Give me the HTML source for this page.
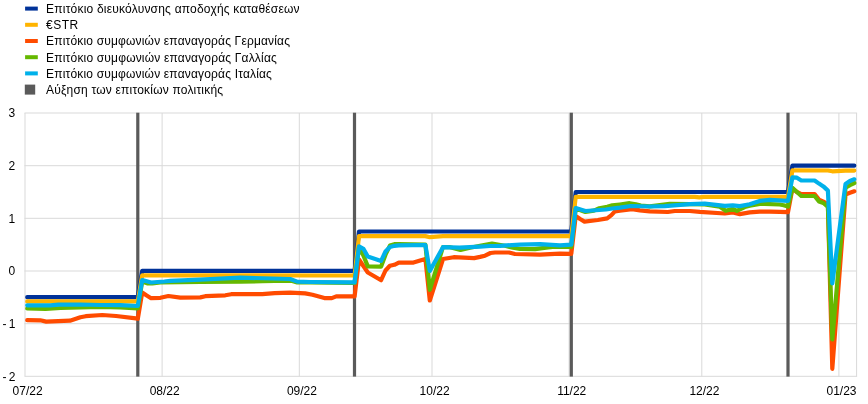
<!DOCTYPE html>
<html lang="el">
<head>
<meta charset="utf-8">
<title>Επιτόκια</title>
<style>
html,body{margin:0;padding:0;background:#fff;}
body{width:868px;height:404px;overflow:hidden;}
svg{display:block;}
text{font-family:"Liberation Sans",sans-serif;font-size:12px;fill:#000;}
</style>
</head>
<body>
<svg width="868" height="404" viewBox="0 0 868 404">
<rect x="0" y="0" width="868" height="404" fill="#fff"/>
<g stroke="#d9d9d9" stroke-width="1" fill="none">
<line x1="24.5" y1="376.3" x2="857.1" y2="376.3"/>
<line x1="24.5" y1="323.7" x2="857.1" y2="323.7"/>
<line x1="24.5" y1="271.0" x2="857.1" y2="271.0"/>
<line x1="24.5" y1="218.3" x2="857.1" y2="218.3"/>
<line x1="24.5" y1="165.7" x2="857.1" y2="165.7"/>
<line x1="24.5" y1="113.0" x2="857.1" y2="113.0"/>
<line x1="25.0" y1="113.0" x2="25.0" y2="376.3"/>
<line x1="162.1" y1="113.0" x2="162.1" y2="376.3"/>
<line x1="299.3" y1="113.0" x2="299.3" y2="376.3"/>
<line x1="432.0" y1="113.0" x2="432.0" y2="376.3"/>
<line x1="569.1" y1="113.0" x2="569.1" y2="376.3"/>
<line x1="701.8" y1="113.0" x2="701.8" y2="376.3"/>
<line x1="838.9" y1="113.0" x2="838.9" y2="376.3"/>
<line x1="856.6" y1="113.0" x2="856.6" y2="376.3"/>
</g>
<g fill="#5a5a5a">
<rect x="136.2" y="112.7" width="3.2" height="263.9"/>
<rect x="352.9" y="112.7" width="3.2" height="263.9"/>
<rect x="569.7" y="112.7" width="3.2" height="263.9"/>
<rect x="786.4" y="112.7" width="3.2" height="263.9"/>
</g>
<polyline points="27.2,297.2 137.8,297.2 142.2,270.9 354.6,270.9 359.0,231.5 571.3,231.5 575.7,192.0 788.0,192.0 792.4,165.7 854.3,165.7" fill="none" stroke="#003299" stroke-width="4.2" stroke-linejoin="round" stroke-linecap="round"/>
<polyline points="27.2,301.4 137.8,301.4 142.2,275.3 354.6,275.5 359.0,236.0 425.4,236.1 429.8,237.2 443.0,236.2 571.3,236.1 575.7,196.8 694.8,196.8 699.3,197.3 703.8,196.8 788.0,196.8 792.4,170.4 827.9,170.5 832.3,171.3 845.5,170.7 854.3,170.6" fill="none" stroke="#FFB400" stroke-width="4.2" stroke-linejoin="round" stroke-linecap="round"/>
<polyline points="27.2,320.2 40.3,320.3 46.2,321.6 70.0,320.7 80.4,317.2 85.7,316.2 102.3,315.0 116.1,316.0 135.9,318.4 137.8,318.8 142.2,292.5 146.7,295.5 151.1,298.2 160.4,297.8 168.4,296.0 180.3,297.6 200.3,297.4 205.3,296.2 225.3,295.3 231.3,294.2 262.3,294.1 274.7,293.2 290.2,292.7 305.2,293.4 312.5,294.8 324.4,298.1 331.8,298.1 336.2,296.4 354.6,296.4 359.0,259.5 363.4,266.0 367.8,272.5 381.1,280.2 385.5,270.5 389.9,265.8 394.4,264.8 398.8,262.6 413.5,262.6 421.0,260.2 425.4,258.9 429.8,300.5 443.0,259.0 453.7,257.2 474.2,258.1 480.0,256.9 485.0,255.7 490.5,253.0 495.0,252.5 509.0,252.5 515.0,254.0 540.0,254.7 559.9,253.6 571.3,253.8 575.7,216.0 580.1,219.0 584.5,221.6 597.8,220.0 607.2,218.4 611.4,215.2 614.9,211.4 619.9,210.6 632.1,209.2 639.9,210.3 649.8,211.3 667.8,212.0 674.8,211.0 689.8,211.0 699.8,211.9 724.8,213.5 732.8,212.5 739.8,214.1 749.7,212.4 759.7,211.7 769.7,211.7 779.7,211.9 788.0,212.2 792.4,188.6 796.9,192.0 801.3,194.1 814.6,194.2 819.0,199.6 823.4,201.6 827.9,204.2 832.3,368.8 845.5,194.5 849.9,192.8 854.3,191.3" fill="none" stroke="#FF4B00" stroke-width="4.2" stroke-linejoin="round" stroke-linecap="round"/>
<polyline points="27.2,308.5 45.5,309.0 60.5,308.0 80.4,307.3 100.4,307.0 120.4,307.5 137.8,308.5 142.2,281.5 147.8,283.4 152.4,283.3 160.4,282.5 200.3,282.0 240.3,281.7 262.3,281.2 287.2,280.7 292.2,281.0 297.2,282.4 310.2,282.3 330.2,282.6 354.6,283.0 359.0,247.0 363.4,255.5 367.8,266.4 381.1,266.6 385.5,254.7 389.9,245.6 394.4,244.2 398.8,244.0 425.4,244.6 429.8,289.8 443.0,247.0 450.1,247.2 460.5,250.0 470.0,247.7 480.0,245.8 492.0,243.6 505.0,245.7 513.0,247.8 520.0,249.0 535.0,249.2 548.0,247.4 554.9,246.6 571.3,246.8 575.7,208.5 585.4,211.9 593.9,210.6 599.3,208.3 607.2,206.8 612.3,205.4 619.9,204.5 629.6,203.2 635.9,204.3 640.9,205.5 649.8,206.4 669.8,203.8 689.8,204.2 704.8,204.4 719.8,206.8 725.8,210.8 732.8,208.8 736.8,210.8 744.8,207.0 749.7,205.8 759.7,204.0 764.7,203.8 779.7,204.5 783.7,205.2 788.0,206.6 792.4,187.9 796.9,192.0 801.3,196.0 814.6,196.0 819.0,201.5 823.4,203.0 827.9,206.8 832.3,339.5 845.5,187.8 849.9,185.2 854.3,183.0" fill="none" stroke="#65B800" stroke-width="4.2" stroke-linejoin="round" stroke-linecap="round"/>
<polyline points="27.2,305.3 50.5,305.4 58.5,304.6 80.4,304.5 100.4,305.0 120.4,305.1 137.8,306.0 142.2,280.0 146.7,281.3 151.1,282.5 164.4,281.5 170.3,280.9 200.3,279.7 240.3,277.6 290.2,279.0 297.2,281.6 310.2,282.0 354.6,282.4 359.0,246.4 363.4,248.8 367.8,256.6 381.1,260.9 385.5,251.5 389.9,247.0 394.4,245.8 398.8,245.4 425.4,245.0 429.8,271.0 443.0,247.2 459.5,247.6 480.0,246.6 490.0,246.0 500.0,245.8 520.0,244.6 540.0,244.2 559.9,245.3 571.3,244.7 575.7,208.0 585.4,211.0 599.3,210.0 605.9,209.5 612.3,208.5 619.9,207.6 630.9,206.0 649.8,206.5 664.8,206.1 689.8,204.2 704.8,203.6 724.8,205.8 732.8,205.4 739.8,206.1 749.7,204.2 759.7,200.9 769.7,199.8 788.0,200.8 792.4,177.4 796.9,177.7 801.3,180.5 814.6,180.5 819.0,183.6 823.4,186.4 827.9,190.6 832.3,283.4 845.5,184.0 849.9,181.0 854.3,179.3" fill="none" stroke="#00B1EA" stroke-width="4.2" stroke-linejoin="round" stroke-linecap="round"/>
<text y="380.6"><tspan x="2.4">-</tspan><tspan x="8.63">2</tspan></text>
<text y="328.0"><tspan x="2.4">-</tspan><tspan x="8.63">1</tspan></text>
<text x="15.3" y="275.3" text-anchor="end">0</text>
<text x="15.3" y="222.6" text-anchor="end">1</text>
<text x="15.3" y="170.0" text-anchor="end">2</text>
<text x="15.3" y="117.3" text-anchor="end">3</text>
<text x="27.6" y="395" text-anchor="middle">07/22</text>
<text x="164.7" y="395" text-anchor="middle">08/22</text>
<text x="301.9" y="395" text-anchor="middle">09/22</text>
<text x="434.6" y="395" text-anchor="middle">10/22</text>
<text x="571.7" y="395" text-anchor="middle">11/22</text>
<text x="704.4" y="395" text-anchor="middle">12/22</text>
<text x="841.5" y="395" text-anchor="middle">01/23</text>
<rect x="25.1" y="6.6" width="12.7" height="4" fill="#003299"/>
<text x="46.1" y="13.0" textLength="253.5" lengthAdjust="spacing">Επιτόκιο διευκόλυνσης αποδοχής καταθέσεων</text>
<rect x="25.1" y="22.8" width="12.7" height="4" fill="#FFB400"/>
<text x="46.1" y="29.2" textLength="32.0" lengthAdjust="spacing">€STR</text>
<rect x="25.1" y="39.0" width="12.7" height="4" fill="#FF4B00"/>
<text x="46.1" y="45.4" textLength="243.9" lengthAdjust="spacing">Επιτόκιο συμφωνιών επαναγοράς Γερμανίας</text>
<rect x="25.1" y="55.2" width="12.7" height="4" fill="#65B800"/>
<text x="46.1" y="61.6" textLength="230.7" lengthAdjust="spacing">Επιτόκιο συμφωνιών επαναγοράς Γαλλίας</text>
<rect x="25.1" y="71.4" width="12.7" height="4" fill="#00B1EA"/>
<text x="46.1" y="77.8" textLength="225.8" lengthAdjust="spacing">Επιτόκιο συμφωνιών επαναγοράς Ιταλίας</text>
<rect x="24.8" y="84.6" width="10.4" height="10" fill="#5a5a5a"/>
<text x="46.1" y="94.0" textLength="177.0" lengthAdjust="spacing">Αύξηση των επιτοκίων πολιτικής</text>
</svg>
</body>
</html>
